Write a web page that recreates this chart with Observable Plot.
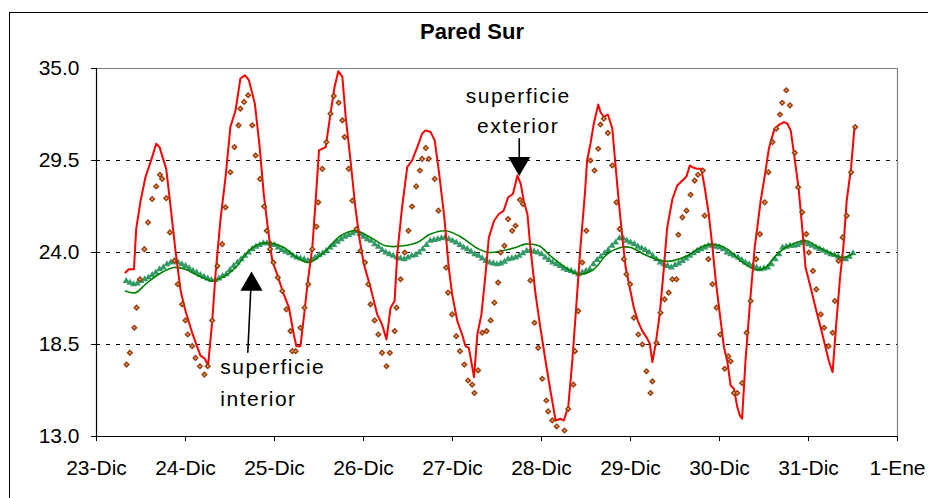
<!DOCTYPE html>
<html><head><meta charset="utf-8">
<script src="https://cdn.jsdelivr.net/npm/d3@7"></script>
<script src="https://cdn.jsdelivr.net/npm/@observablehq/plot@0.6"></script>
<style>
body{margin:0;background:#fff;}
#wrap{position:relative;width:928px;height:498px;overflow:hidden;font-family:"Liberation Sans",Arial,sans-serif;}
#wrap svg{position:absolute;left:0;top:0;}
#border{position:absolute;left:9px;top:12px;width:1000px;height:1000px;border-left:1px solid #000;border-top:1px solid #000;}
#title{position:absolute;left:322px;width:300px;top:20px;line-height:24px;text-align:center;font-weight:bold;font-size:22px;color:#000;}
</style></head><body><div id="wrap"></div>
<script>
// ---- data (time in hours from 23-Dic 00:00, temperature °C) ----
const title = "Pared Sur";
const dayTicks = [0,24,48,72,96,120,144,168,192,216];
const dayLabels = ["23-Dic","24-Dic","25-Dic","26-Dic","27-Dic","28-Dic","29-Dic","30-Dic","31-Dic","1-Ene"];
const yTicks = [13.0,18.5,24.0,29.5,35.0];
const gridValues = [18.5,24.0,29.5];

// exterior surface, simulated (red line)
const exteriorSim = [[7.8,22.8],[8.7,23.0],[10.1,23.0],[10.7,25.4],[11.9,27.1],[13.2,28.5],[15.0,29.7],[16.1,30.5],[17.0,30.3],[18.8,29.0],[20.0,26.7],[21.3,24.1],[22.7,21.7],[24.0,20.5],[25.8,19.2],[28.0,17.85],[29.2,17.65],[30.1,17.25],[31.2,19.9],[32.1,22.7],[33.4,25.9],[34.8,28.5],[36.1,31.5],[37.5,32.5],[38.8,34.4],[40.0,34.6],[41.1,34.3],[42.7,32.9],[44.0,30.3],[45.1,27.5],[46.3,25.3],[47.4,23.5],
[48.7,22.7],[50.5,21.5],[51.9,20.7],[53.2,19.1],[53.9,18.4],[55.0,18.4],[55.9,20.1],[57.0,22.3],[58.2,24.3],[59.1,27.1],[60.0,30.1],[61.8,30.3],[63.1,32.3],[64.2,33.9],[65.2,34.84],[66.3,34.5],[67.2,32.1],[68.5,29.5],[69.8,26.7],[71.0,24.7],[72.1,23.3],[73.9,21.9],[75.7,20.3],[77.0,19.7],[78.2,18.8],[79.3,20.7],[80.4,21.1],[81.1,23.9],[82.4,26.7],[83.8,29.1],[85.1,29.5],[86.5,30.3],[87.8,31.1],[88.7,31.3],[90.1,31.2],
[91.2,30.7],[92.3,28.9],[93.7,26.3],[95.0,23.1],[95.9,21.5],[97.3,19.9],[98.6,19.1],[99.5,18.4],[100.4,18.3],[101.8,16.55],[102.7,19.1],[103.8,20.3],[104.9,22.7],[105.8,24.9],[107.2,25.9],[108.5,26.3],[109.8,26.5],[111.0,27.3],[112.3,27.5],[113.5,28.6],[114.4,28.1],[115.2,27.1],[116.2,26.3],[117.0,24.3],[118.4,21.5],[119.7,19.5],[121.1,17.5],[122.4,15.75],[123.8,13.96],[125.1,14.06],[126.0,13.96],[127.2,14.76],[128.3,17.5],[129.6,21.5],[130.5,24.3],[131.7,27.5],
[132.3,29.5],[133.2,30.5],[134.1,31.7],[135.3,32.85],[135.9,32.4],[136.8,32.1],[137.9,32.25],[139.1,31.4],[140.0,29.1],[140.9,26.9],[141.8,24.9],[142.7,23.1],[143.8,21.9],[144.9,20.7],[146.0,19.9],[147.2,19.3],[148.3,18.94],[149.2,18.55],[149.9,17.45],[150.8,18.55],[151.9,20.34],[153.0,23.1],[153.9,25.5],[155.3,27.2],[156.6,28.0],[158.0,28.3],[159.1,28.55],[160.0,29.2],[160.7,29.1],[162.0,29.0],[163.1,29.0],[164.0,27.9],[165.1,26.3],[166.1,24.3],[167.0,22.3],[168.1,20.3],[169.2,18.34],[170.1,17.5],[171.0,16.05],[171.9,15.85],[172.8,14.76],[173.5,14.26],[174.1,14.06],
[175.0,17.5],[176.4,21.5],[177.5,24.3],[178.2,25.5],[179.1,27.1],[180.3,28.7],[181.3,30.2],[182.7,31.3],[184.1,31.65],[185.4,31.8],[186.3,31.7],[187.2,31.3],[188.1,29.9],[189.4,27.7],[190.3,25.5],[191.2,23.1],[192.6,21.9],[193.9,20.7],[195.3,19.5],[196.6,18.34],[197.5,17.5],[198.5,16.85],[199.4,19.5],[200.5,22.5],[201.4,24.3],[202.3,27.1],[203.5,29.1],[204.4,31.5]];

// exterior surface, measured (brown diamonds)
const exteriorMeas = [[8.1,17.3],[9.0,18.0],[10.2,19.5],[10.8,20.7],[11.7,22.4],[12.9,24.2],[13.9,25.8],[15.0,27.2],[16.1,27.95],[17.1,28.65],[17.7,28.4],[18.8,27.25],[19.8,25.2],[21.0,23.5],[21.9,22.1],[23.1,20.9],[24.0,19.94],[24.6,19.1],[25.8,18.4],[26.7,17.7],[27.9,17.2],[29.1,16.7],[30.0,17.2],[31.2,19.94],[32.6,23.2],[33.9,24.5],[34.8,26.7],[36.1,28.8],[37.2,30.3],[38.3,31.6],[38.8,32.6],[39.8,33.0],[40.9,33.4],[42.0,31.6],[42.9,29.8],[44.1,28.4],[45.2,26.75],[45.9,25.3],[46.8,24.2],[47.7,23.4],
[48.9,22.5],[50.1,21.7],[51.2,20.6],[52.3,19.3],[52.8,18.1],[53.7,18.1],[55.0,19.5],[56.1,20.7],[57.1,22.1],[58.2,24.2],[59.3,25.55],[59.8,27.0],[60.9,29.0],[62.0,30.6],[63.1,32.3],[64.0,33.35],[65.3,32.95],[66.3,31.9],[66.9,30.9],[68.0,29.0],[69.0,27.1],[70.1,25.4],[71.2,24.1],[72.4,23.4],[73.3,22.1],[73.9,20.9],[75.0,19.94],[76.0,19.1],[77.0,18.0],[78.2,17.2],[79.1,18.0],[80.4,19.3],[80.9,20.7],[82.0,22.4],[83.1,24.0],[84.1,25.3],[85.1,26.75],[86.2,27.95],[87.2,28.9],[87.8,29.6],[88.8,30.25],[89.6,29.6],
[91.2,28.4],[92.2,26.5],[94.3,23.1],[94.8,21.6],[95.9,20.3],[97.0,19.0],[98.0,18.1],[99.2,17.3],[100.2,16.35],[101.3,16.1],[101.9,15.6],[102.9,16.95],[104.0,19.2],[105.2,19.3],[106.3,19.94],[107.3,21.0],[108.3,22.2],[109.0,24.0],[110.0,24.4],[111.0,26.0],[112.1,25.3],[113.0,25.6],[114.2,27.15],[115.0,26.9],[117.0,22.33],[118.1,19.8],[119.1,18.3],[120.2,16.45],[121.3,15.15],[121.8,14.5],[122.9,13.96],[124.1,13.6],[126.2,13.36],[127.2,14.65],[128.6,16.1],[129.0,18.1],[129.9,20.5],[131.0,23.4],
[132.1,25.3],[133.2,29.5],[134.3,28.9],[135.3,30.2],[135.9,31.65],[136.8,32.0],[137.9,31.15],[139.1,29.2],[140.2,27.0],[141.1,25.4],[142.2,23.6],[142.9,22.7],[143.9,22.1],[144.9,20.1],[146.1,19.1],[147.2,18.5],[148.3,16.9],[149.4,15.6],[149.9,16.3],[151.0,18.6],[152.1,20.4],[153.2,21.2],[154.3,21.6],[155.3,22.4],[156.4,22.4],[156.9,25.06],[158.0,26.1],[159.1,26.5],[160.2,27.45],[161.3,28.3],[162.2,28.65],[163.5,28.9],[164.0,26.2],[165.0,23.6],[166.1,22.1],[167.2,20.7],[168.2,19.1],[169.4,17.05],[170.4,17.8],[171.0,17.5],[171.9,15.6],[172.8,15.6],
[174.1,16.2],[175.3,19.2],[176.4,21.1],[177.9,23.6],[178.9,25.1],[180.2,27.0],[181.2,28.8],[182.3,30.6],[183.3,31.4],[184.3,32.25],[184.9,32.95],[186.0,33.7],[187.0,32.8],[188.3,29.96],[189.2,27.9],[190.3,26.4],[191.4,25.1],[192.1,24.0],[193.2,22.9],[194.1,21.8],[195.3,20.3],[196.2,19.5],[197.4,18.4],[198.5,19.2],[199.1,21.1],[200.1,23.5],[201.2,24.9],[202.3,26.2],[203.5,28.8],[204.6,31.5]];

// interior surface, simulated (green line)
const interiorSim = [[7.8,21.7],[10.5,21.6],[13.2,22.1],[16.8,22.7],[20.8,23.1],[24.0,23.0],[27.6,22.6],[31.2,22.3],[33.9,22.5],[37.5,23.1],[41.1,24.1],[43.8,24.5],[47.4,24.55],[50.5,24.3],[54.1,23.7],[57.3,23.4],[61.3,24.0],[65.8,25.0],[69.8,25.3],[73.9,24.9],[77.9,24.4],[82.9,24.4],[86.5,24.6],[90.1,25.1],[94.1,25.3],[97.7,25.0],[103.1,24.2],[105.8,24.0],[109.4,24.1],[113.0,24.3],[115.7,24.5],[119.3,24.4],[122.4,23.8],[126.5,23.1],[130.1,22.7],[134.1,23.0],[137.7,23.9],[141.3,24.3],[144.0,24.3],[148.5,23.8],[152.6,23.5],[155.3,23.5],[159.3,23.8],[162.9,24.3],[166.1,24.5],[170.1,24.2],[173.7,23.5],[177.7,22.97],[180.4,23.1],[183.1,23.8],[186.7,24.4],[191.2,24.7],[194.8,24.3],[198.5,23.9],[201.2,23.7],[203.8,23.9]];

// interior surface, measured (green triangles), hourly from hour 8
const interiorMeasStart = 8;
const interiorMeas = [22.3,22.2,22.1,22.15,22.3,22.4,22.5,22.65,22.8,23.0,
23.1,23.3,23.4,23.5,23.4,23.3,23.2,23.05,22.9,22.8,
22.65,22.55,22.45,22.35,22.35,22.45,22.6,22.7,22.95,23.2,
23.4,23.6,23.8,24.0,24.2,24.35,24.45,24.55,24.55,24.5,
24.45,24.3,24.15,24.05,23.95,23.8,23.7,23.65,23.6,23.5,
23.6,23.7,23.85,23.95,24.1,24.3,24.45,24.65,24.8,24.95,
25.05,25.15,25.25,25.1,24.95,24.8,24.7,24.5,24.35,24.15,
24.0,23.9,23.8,23.7,23.65,23.6,23.7,23.8,23.85,24.0,
24.2,24.45,24.7,24.75,24.8,24.85,24.9,24.8,24.7,24.6,
24.45,24.3,24.2,24.05,23.9,23.8,23.65,23.5,23.4,23.35,
23.3,23.35,23.45,23.6,23.65,23.7,23.8,23.95,24.1,24.1,
24.05,24.0,23.9,23.7,23.55,23.4,23.3,23.2,23.05,22.95,
22.9,22.8,22.7,22.8,22.9,23.0,23.3,23.55,23.75,23.95,
24.15,24.4,24.6,24.85,24.85,24.7,24.6,24.5,24.35,24.25,
24.15,24.0,23.8,23.6,23.4,23.3,23.2,23.1,23.25,23.35,
23.5,23.65,23.8,23.95,24.1,24.2,24.3,24.4,24.45,24.35,
24.3,24.2,24.0,23.9,23.8,23.7,23.55,23.4,23.3,23.2,
23.1,23.0,23.05,23.1,23.3,23.6,23.9,24.3,24.35,24.4,
24.4,24.45,24.55,24.6,24.5,24.4,24.3,24.2,24.1,24.0,
23.9,23.85,23.75,23.65,23.6,23.75,23.95];

// annotations (data coordinates)
const labelExterior = [{t:113.7, v:33.33, s:"superficie"},{t:113.7, v:31.53, s:"exterior"}];
const labelInterior = [{t:33.4, v:17.11, s:"superficie"},{t:33.4, v:15.25, s:"interior"}];
const arrowExterior = [[114.0,30.8],[114.0,29.69]];
const arrowExteriorHead = [{t:114.0, v:29.33, rot:180}];
const arrowInterior = [[40.8,18.04],[41.6,21.8]];
const arrowInteriorHead = [{t:41.8, v:22.10, rot:0}];

// ---- chart ----
const intMeasData = interiorMeas.map((v,i)=>({t: interiorMeasStart + i, v}));
const wrap = document.getElementById("wrap");

const chart = Plot.plot({
  width: 928, height: 498,
  marginLeft: 96, marginRight: 31, marginTop: 68, marginBottom: 62,
  style: {fontFamily: "'Liberation Sans', Arial, sans-serif", fontSize: "21px", color: "#000", background: "transparent", overflow: "visible"},
  x: {domain: [0,216], ticks: dayTicks, tickFormat: d => dayLabels[Math.round(d/24)], tickSize: 5, tickPadding: 19, label: null},
  y: {domain: [13,35], ticks: yTicks, tickFormat: d => d.toFixed(1), tickSize: 5, tickPadding: 12, label: null},
  marks: [
    Plot.ruleY(gridValues, {stroke: "#000", strokeWidth: 1, strokeDasharray: "4,6"}),
    Plot.ruleY([35], {stroke: "#808080", strokeWidth: 1.2}),
    Plot.ruleX([216], {stroke: "#808080", strokeWidth: 1.2}),
    Plot.ruleY([13], {stroke: "#000", strokeWidth: 1.2}),
    Plot.ruleX([0], {stroke: "#000", strokeWidth: 1.2}),
    Plot.dot(intMeasData, {x: "t", y: "v", symbol: "triangle", r: 2.6, fill: "#339966", stroke: "none"}),
    Plot.line(interiorSim, {x: d=>d[0], y: d=>d[1], stroke: "#008000", strokeWidth: 1.6, curve: "catmull-rom"}),
    Plot.line(exteriorSim, {x: d=>d[0], y: d=>d[1], stroke: "#ff0000", strokeWidth: 2}),
    Plot.dot(exteriorMeas, {x: d=>d[0], y: d=>d[1], symbol: "diamond2", r: 3.0, fill: "#9a3c0a", stroke: "none"}),
    Plot.dot(exteriorMeas, {x: d=>d[0], y: d=>d[1], r: 1.1, fill: "#dca070", stroke: "none"}),
    Plot.line(arrowExterior, {x: d=>d[0], y: d=>d[1], stroke: "#000", strokeWidth: 1.6}),
    Plot.dot(arrowExteriorHead, {x: "t", y: "v", rotate: "rot", symbol: "triangle", r: 8.2, fill: "#000"}),
    Plot.line(arrowInterior, {x: d=>d[0], y: d=>d[1], stroke: "#000", strokeWidth: 1.6}),
    Plot.dot(arrowInteriorHead, {x: "t", y: "v", rotate: "rot", symbol: "triangle", r: 8.2, fill: "#000"}),
    Plot.text(labelExterior, {x: "t", y: "v", text: "s", textAnchor: "middle", fontSize: 21, fill: "#000", className: "annot"}),
    Plot.text(labelInterior, {x: "t", y: "v", text: "s", textAnchor: "start", fontSize: 21, fill: "#000", className: "annot"})
  ]
});
wrap.appendChild(chart);
chart.querySelectorAll(".annot text").forEach(t => t.setAttribute("letter-spacing", "1.5"));

const border = document.createElement("div"); border.id = "border"; wrap.appendChild(border);
const t = document.createElement("div"); t.id = "title"; t.textContent = title; wrap.appendChild(t);
</script></body></html>
